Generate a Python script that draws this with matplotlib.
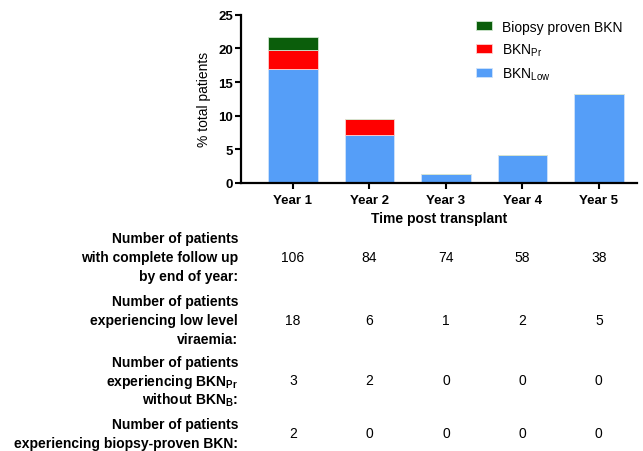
import numpy as np
import matplotlib.pyplot as plt
import matplotlib.transforms as mtransforms

plt.rcParams['font.family'] = ['Liberation Sans', 'DejaVu Sans']
plt.rcParams['mathtext.fontset'] = 'custom'
plt.rcParams['mathtext.rm'] = 'Liberation Sans'
plt.rcParams['mathtext.bf'] = 'Liberation Sans:bold'
plt.rcParams['mathtext.it'] = 'Liberation Sans:italic'

# data
years = ['Year 1', 'Year 2', 'Year 3', 'Year 4', 'Year 5']
low_pct = [17.0, 7.1, 1.35, 4.1, 13.2]
pr_pct = [2.8, 2.4, 0, 0, 0]
biopsy_pct = [1.9, 0, 0, 0, 0]

row_labels = [
    'Number of patients\nwith complete follow up\nby end of year:',
    'Number of patients\nexperiencing low level\nviraemia:',
    'Number of patients\nexperiencing BKN$_{\\mathbf{Pr}}$\nwithout BKN$_{\\mathbf{B}}$:',
    'Number of patients\nexperiencing biopsy-proven BKN:',
]
n_followup = [106, 84, 74, 58, 38]
n_low = [18, 6, 1, 2, 5]
n_pr = [3, 2, 0, 0, 0]
n_biopsy = [2, 0, 0, 0, 0]

c_low = '#559ef8'
c_pr = '#ff0000'
c_bio = '#0b5e0b'

fig = plt.figure(figsize=(6.43, 4.52), dpi=100)
ax = fig.add_axes([0.3748, 0.593, 0.616, 0.372])

x = np.arange(len(years))
w = 0.65
low = np.array(low_pct)
pr = np.array(pr_pct)
bio = np.array(biopsy_pct)
ax.bar(x, low, w, color=c_low, edgecolor='#cfe3fb', linewidth=0.6, label='BKN$_{\\mathrm{Low}}$')
ax.bar(x, pr, w, bottom=low, color=c_pr, edgecolor='#ffd0d0', linewidth=0.6, label='BKN$_{\\mathrm{Pr}}$')
ax.bar(x, bio, w, bottom=low + pr, color=c_bio, edgecolor='#d0e8d0', linewidth=0.6, label='Biopsy proven BKN')

ax.set_xlim(-0.68, 4.5)
ax.set_ylim(0, 25)
ax.set_yticks([0, 5, 10, 15, 20, 25])
ax.set_xticks(x)
ax.set_xticklabels(years, fontweight='bold', fontsize=9.5)
for t in ax.get_yticklabels():
    t.set_fontweight('bold')
    t.set_fontsize(9.5)
ax.tick_params(axis='x', width=1.5, length=4.3, pad=4)
ax.tick_params(axis='y', width=1.5, length=4.3, pad=1.5)
ax.spines['top'].set_visible(False)
ax.spines['right'].set_visible(False)
ax.spines['left'].set_linewidth(1.6)
ax.spines['bottom'].set_linewidth(1.6)
ax.set_ylabel('% total patients', fontsize=10, labelpad=5)
ax.set_xlabel('Time post transplant', fontsize=10, fontweight='bold', labelpad=3)

h, l = ax.get_legend_handles_labels()
ax.legend(h[::-1], l[::-1], loc='upper left', bbox_to_anchor=(0.5606, 1.045), frameon=False,
          fontsize=10, handlelength=1.2, handleheight=0.6, labelspacing=0.55, handletextpad=0.7)

# table under the chart, one text per line so the spacing stays even
trans = mtransforms.blended_transform_factory(ax.transData, fig.transFigure)
row_y = [256.5, 319.5, 380, 433]
line_gap = 18.5
rows = [n_followup, n_low, n_pr, n_biopsy]
for lab, vals, yy in zip(row_labels, rows, row_y):
    lines = lab.split('\n')
    for i, line in enumerate(lines):
        ly = yy + (i - (len(lines) - 1) / 2) * line_gap
        fig.text(238 / 643, 1 - ly / 452, line, ha='right', va='center_baseline',
                 fontsize=10, fontweight='bold')
    for xi, v in zip(x, vals):
        ax.text(xi, 1 - yy / 452, str(v), transform=trans, ha='center', va='center_baseline',
                fontsize=10, clip_on=False)

fig.savefig('out.png', dpi=100)
